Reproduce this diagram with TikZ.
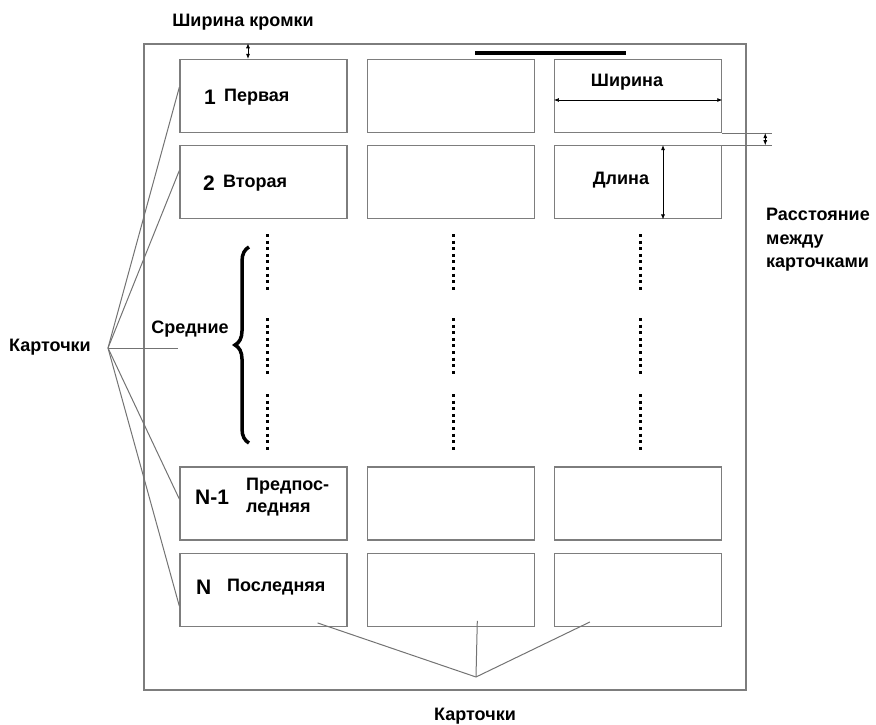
\documentclass[tikz,border=0pt]{standalone}
\usepackage{fontspec}
\setmainfont{Liberation Sans}
\usetikzlibrary{
    arrows.meta,
    positioning,
    calc,
    decorations.pathreplacing
}
\tikzset{
  card/.style    = {draw=cardGray, line width=1.3pt, minimum width=167pt,
                    minimum height=73pt, inner sep=0pt},
  lbl/.style     = {font=\fontsize{18}{22}\selectfont\bfseries, inner sep=0pt},
  num/.style     = {font=\fontsize{21}{24}\selectfont\bfseries, inner sep=0pt},
  dimarr/.style  = {{Latex[length=5pt,width=4pt]}-{Latex[length=5pt,width=4pt]},
                    line width=0.7pt, black},
  pointer/.style = {draw=lineGray, line width=1pt},
  dots/.style    = {line width=3pt, dash pattern=on 3pt off 3.6pt}
}
\definecolor{cardGray}{RGB}{125,125,125}
\definecolor{lineGray}{RGB}{115,115,115}

\begin{document}
\begin{tikzpicture}[x=1pt,y=-1pt]
\useasboundingbox (0,0) rectangle (876,725);
\node[draw=cardGray,line width=1.3pt,minimum width=602pt,minimum height=646pt,inner sep=0pt] (sheet) at (445,367) {};
% cards
\node[card] (c11) at (263.5,96) {};
\node[card,right=19pt of c11] (c12) {};
\node[card,right=19pt of c12] (c13) {};
\node[card,below=12pt of c11] (c21) {};
\node[card,right=19pt of c21] (c22) {};
\node[card,right=19pt of c22] (c23) {};
\node[card] (c31) at (263.5,503.5) {};
\node[card,right=19pt of c31] (c32) {};
\node[card,right=19pt of c32] (c33) {};
\node[card,below=12pt of c31] (c41) {};
\node[card,right=19pt of c41] (c42) {};
\node[card,right=19pt of c42] (c43) {};
\draw[line width=4pt] (475,53) -- (626,53);
% card texts
\node[num,anchor=west] (n1) at (204,97) {1};
\node[lbl,anchor=west] (t1) at (224,97) {Первая};
\node[num,anchor=west] (n2) at (203,183) {2};
\node[lbl,anchor=west] (t2) at (223,183) {Вторая};
\node[num,anchor=west] (n3) at (195,497) {N-1};
\node[lbl,anchor=west,align=left] (t3) at (246,497.5) {Предпос-\\ледняя};
\node[num,anchor=west] (n4) at (196,587) {N};
\node[lbl,anchor=west] (t4) at (227,587) {Последняя};
% middle rows
\foreach \x in {267,453,640} {
  \draw[dots] (\x,234) -- (\x,292);
  \draw[dots] (\x,318) -- (\x,376);
  \draw[dots] (\x,394) -- (\x,451);
}
\draw[decorate,decoration={brace,amplitude=14pt},line width=3.5pt] (249,443) -- (249,247);
\node[lbl] (mids) at (190,329) {Средние};
% sizes
\node[lbl] (edge) at (243,22) {Ширина кромки};
\coordinate (ek) at (248,50);
\draw[dimarr] (ek |- sheet.north) -- (ek |- c11.north);
\node[lbl] (wd) at (627,82) {Ширина};
\draw[dimarr] ($(c13.west)+(0,4)$) -- ($(c13.east)+(0,4)$);
\node[lbl] (ln) at (621,180) {Длина};
\coordinate (dl) at (663,180);
\draw[dimarr] (dl |- c23.north) -- (dl |- c23.south);
\draw[pointer,line width=0.8pt] (c13.south east) -- ++(50,0) coordinate (e1);
\draw[pointer,line width=0.8pt] (c23.north east) -- ++(50,0) coordinate (e2);
\draw[dimarr] ($(e1)+(-7,0)$) -- ($(e2)+(-7,0)$);
\node[lbl,font=\fontsize{18}{23.5}\selectfont\bfseries,anchor=west,align=left] (gap) at (766,240) {Расстояние\\между\\карточками};
% pointers to cards
\node[lbl] (cl) at (50,347) {Карточки};
\coordinate (kl) at (108,348);
\coordinate (mid) at (178,348);
\draw[pointer] (kl) -- (c11.174);
\draw[pointer] (kl) -- (c21.172.5);
\draw[pointer] (kl) -- (mid);
\draw[pointer] (kl) -- (c31.177.6);
\draw[pointer] (kl) -- (c41.191);
\node[lbl] (cb) at (475,716) {Карточки};
\coordinate (kb) at (476,677);
\draw[pointer] (kb) -- ($(c41.south east)+(-30,-4)$);
\draw[pointer] (kb) -- ($(c42.south)+(26.5,-6)$);
\draw[pointer] (kb) -- ($(c43.south west)+(36,-5)$);
\end{tikzpicture}
\end{document}
